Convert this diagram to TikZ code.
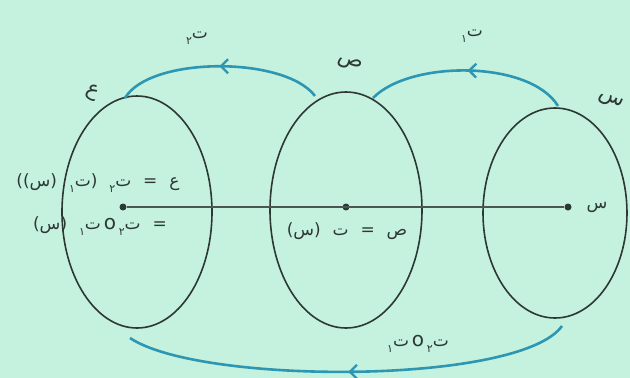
\documentclass[tikz,border=0pt]{standalone}
\usepackage{fontspec}
\TeXXeTstate=1
\newfontfamily\arabicfont[Script=Arabic,WordSpace=2.2]{DejaVu Sans}
\usetikzlibrary{arrows.meta,decorations.markings,shapes.geometric}
\definecolor{bg}{RGB}{196,242,222}
\definecolor{arr}{RGB}{45,150,178}
\definecolor{ink}{RGB}{45,55,52}
\newcommand\sbs[1]{\raisebox{-0.6ex}{\fontsize{11}{11}\selectfont #1}}
\newcommand\comp{\,{\fontsize{20}{20}\selectfont o}\,}
\newcommand\artx[1]{\beginR #1\endR}
\begin{document}
\begin{tikzpicture}[x=1pt,y=-1pt,
  setshape/.style={ellipse, draw=ink, line width=1.6pt, inner sep=0pt},
  dotpt/.style={circle, fill=ink, inner sep=0pt, minimum size=7pt},
  lbl/.style={font=\arabicfont\fontsize{17}{19}\selectfont, text=ink, inner sep=1pt},
  big/.style={font=\arabicfont\fontsize{21}{23}\selectfont, text=ink, inner sep=1pt},
  mapping/.style={draw=arr, line width=2.6pt, postaction=decorate,
    decoration={markings, mark=at position 0.5 with {\arrow[arr]{Straight Barb[length=7pt,width=14pt,line width=2.4pt]}}}}]
\fill[bg] (0,0) rectangle (630,378);
\useasboundingbox (0,0) rectangle (630,378);
% sets
\node[setshape, minimum width=150pt, minimum height=232pt] (A) at (137,212) {};
\node[setshape, minimum width=152pt, minimum height=236pt] (B) at (346,210) {};
\node[setshape, minimum width=144pt, minimum height=210pt] (C) at (555,213) {};
% points
\node[dotpt] (pz) at (123,207) {};
\node[dotpt] (py) at (346,207) {};
\node[dotpt] (px) at (568,207) {};
\draw[ink!85, line width=1.3pt] (pz) -- (px);
% set names
\node[big, rotate=-25] (nA) at (92,93) {\artx{ع}};
\node[big, rotate=-20] (nB) at (350,64) {\artx{ص}};
\node[big, rotate=-25] (nC) at (611,101) {\artx{س}};
% mappings
\coordinate (c1s) at (558,106);
\coordinate (c1e) at (373,98);
\coordinate (c2s) at (315,96);
\coordinate (c2e) at (125,98);
\coordinate (c3s) at (562,326);
\coordinate (c3e) at (130,338);
\draw[mapping] (c1s) .. controls (530,60) and (410,60) .. (c1e);
\draw[mapping] (c2s) .. controls (285,56) and (150,56) .. (c2e);
\draw[mapping] (c3s) .. controls (520,385) and (200,385) .. (c3e);
\node[lbl] (t1) at (472,36) {\artx{ت\sbs{١}}};
\node[lbl] (t2) at (197,38) {\artx{ت\sbs{٢}}};
\node[lbl] (t21) at (418,344) {\artx{ت\sbs{٢}\comp ت\sbs{١}}};
% point labels
\node[lbl] (lx) at (597,207) {\artx{س}};
\node[lbl] (ly) at (347,231) {\artx{ص = ت (س)}};
\node[lbl] (lz1) at (98,183) {\artx{ع = ت\sbs{٢} (ت\sbs{١} (س))}};
\node[lbl] (lz2) at (100,226) {\artx{= ت\sbs{٢}\comp ت\sbs{١} (س)}};
\end{tikzpicture}
\end{document}
